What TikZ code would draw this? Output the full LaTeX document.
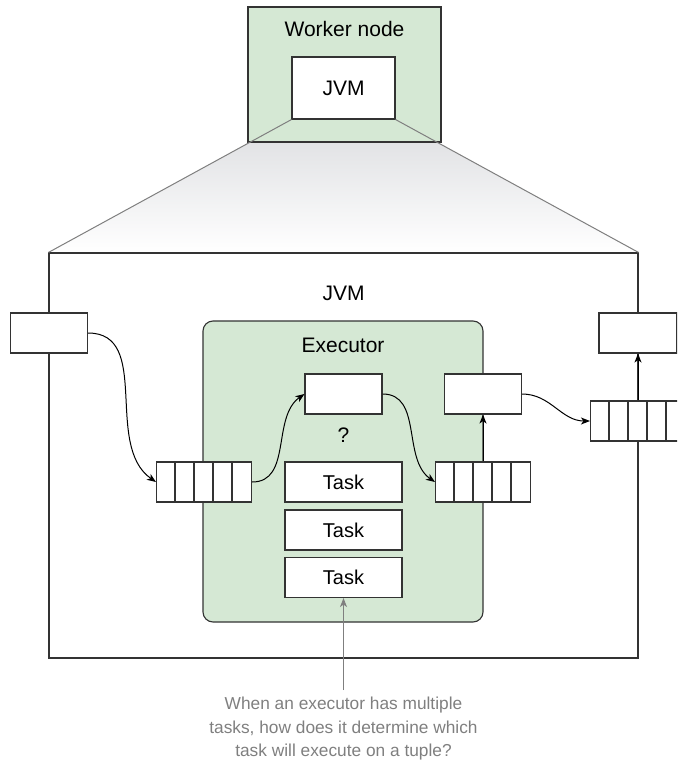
\documentclass[tikz,border=0pt]{standalone}
\usepackage{fontspec}
\setmainfont{Liberation Sans}
\usetikzlibrary{arrows.meta,positioning,backgrounds}
\definecolor{execgreen}{HTML}{D5E8D4}
\definecolor{linegray}{HTML}{7F7F7F}
\definecolor{fadegray}{HTML}{DCDDE0}
\tikzset{
  box/.style={draw=black!80,line width=1.1pt,fill=white,inner sep=0pt,
    minimum width=77pt,minimum height=40pt},
  bigtext/.style={font=\fontsize{21}{25}\selectfont},
  tasktext/.style={font=\fontsize{20}{24}\selectfont},
  queuebox/.style={box,minimum width=95pt},
  taskbox/.style={box,tasktext,minimum width=117pt},
  flow/.style={draw=black,line width=1pt,-{Stealth[length=9pt,width=7pt,inset=2.5pt]}},
}
\begin{document}
\begin{tikzpicture}[x=1pt,y=-1pt]
    \clip (0,0) rectangle (677,765);
    % outer JVM
    \node[box,minimum width=589pt,minimum height=405pt] (jvm) at (343.5,455.5) {};
    \node[bigtext] (jvmlbl) at (343.5,293) {JVM};
    % worker node on top
    \node[box,fill=execgreen,minimum width=193pt,minimum height=135pt] (worker) at (344.5,74.5) {};
    \node[bigtext] (workerlbl) at (344.5,29) {Worker node};
    \node[box,bigtext,minimum width=103pt,minimum height=62pt] (smalljvm) at (343.5,88) {JVM};
    \begin{scope}[on background layer]
        \shade[top color=fadegray,bottom color=white] (smalljvm.south west) -- (smalljvm.south east)
            -- (jvm.north east) -- (jvm.north west) -- cycle;
    \end{scope}
    \draw[linegray,line width=1pt] (smalljvm.south west) -- (jvm.north west);
    \draw[linegray,line width=1pt] (smalljvm.south east) -- (jvm.north east);
    %%
    \node[box] (inbox) at (49,333) {};
    \node[box,minimum width=78pt] (outbox) at (638,333) {};
    % executor
    \node[box,fill=execgreen,rounded corners=10pt,minimum width=280pt,minimum height=301pt]
        (executor) at (343,471.5) {};
    \node[bigtext] (execlbl) at (343,345) {Executor};
    \node[box] (dispatch) at (343.5,394) {};
    \node[bigtext] (qmark) at (343.5,435) {?};
    \node[box] (sendbox) at (483,394) {};
    \node[taskbox] (task1) at (343.5,482) {Task};
    \node[taskbox] (task2) at (343.5,530) {Task};
    \node[taskbox] (task3) at (343.5,577.5) {Task};
    % queues
    \node[queuebox] (inq) at (204,482) {};
    \node[queuebox] (outq) at (483,482) {};
    \node[queuebox] (wireq) at (638,421) {};
    \foreach \q in {inq,outq,wireq}
        \foreach \i in {1,...,4}
            \draw[black!80,line width=1.1pt] ([xshift=\i*19pt]\q.north west) -- ([xshift=\i*19pt]\q.south west);
    %%
    \draw[flow] (inbox.east) to[out=0,in=145] (inq.west);
    \draw[flow] (inq.east) to[out=0,in=215] (dispatch.west);
    \draw[flow] (dispatch.east) to[out=0,in=145] (outq.west);
    \draw[flow] (outq.north) -- (sendbox.south);
    \draw[flow] (sendbox.east) to[out=0,in=180] (wireq.west);
    \draw[flow] (wireq.north) -- (outbox.south);
    % note
    \coordinate (notetop) at (343.5,690);
    \draw[linegray,line width=1pt,-{Stealth[length=9pt,width=7pt,inset=2.5pt]}] (notetop) -- (task3.south);
    \node[linegray,align=center,font=\fontsize{17.3}{23.5}\selectfont] (note) at (343.5,729)
        {When an executor has multiple\\tasks, how does it determine which\\task will execute on a tuple?};
\end{tikzpicture}
\end{document}
